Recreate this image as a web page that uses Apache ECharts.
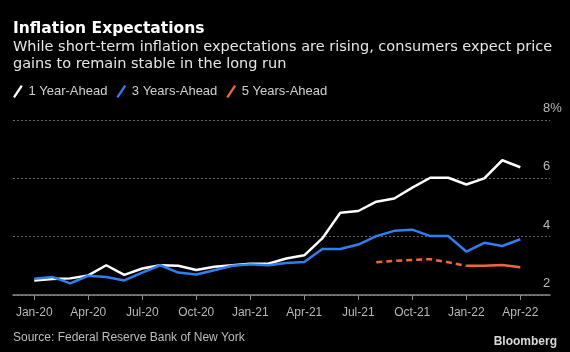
<!DOCTYPE html>
<html>
<head>
<meta charset="utf-8">
<script src="https://cdn.jsdelivr.net/npm/echarts@6/dist/echarts.min.js"></script>
<style>
  html, body { margin: 0; padding: 0; background: #000; }
  #chart { width: 570px; height: 352px; }
</style>
</head>
<body>
<div id="chart"></div>
<script>
// monthly, Jan-20 .. Apr-22 (index 0..27)
const months = ['Jan-20','Feb-20','Mar-20','Apr-20','May-20','Jun-20','Jul-20','Aug-20','Sep-20','Oct-20','Nov-20','Dec-20',
  'Jan-21','Feb-21','Mar-21','Apr-21','May-21','Jun-21','Jul-21','Aug-21','Sep-21','Oct-21','Nov-21','Dec-21',
  'Jan-22','Feb-22','Mar-22','Apr-22'];
const oneYear = [2.50, 2.55, 2.57, 2.67, 3.02, 2.69, 2.91, 3.02, 3.00, 2.86, 2.97, 3.02,
  3.07, 3.07, 3.25, 3.36, 3.94, 4.82, 4.88, 5.20, 5.31, 5.68, 6.02, 6.02, 5.79, 6.00, 6.62, 6.38];
const threeYear = [2.56, 2.62, 2.40, 2.66, 2.62, 2.50, 2.77, 3.02, 2.77, 2.70, 2.85, 3.00,
  3.05, 3.02, 3.10, 3.13, 3.58, 3.58, 3.73, 4.02, 4.20, 4.24, 4.02, 4.02, 3.49, 3.79, 3.68, 3.91];
// 5-year starts Aug-21; dashed until Jan-22, solid afterwards
const fiveYearStart = 19;
const fiveYear = [3.12, 3.17, 3.20, 3.23, 3.12, 3.00, 3.00, 3.03, 2.95];
const fiveYearSolidFrom = 24;
const tickIdx = [0, 3, 6, 9, 12, 15, 18, 21, 24, 27];

const font = 'Liberation Sans';
const wide = 'DejaVu Sans';
const chart = echarts.init(document.getElementById('chart'));

const pts = arr => arr.map((v, i) => [i, v]);
const fiveDashed = fiveYear.map((v, i) => [fiveYearStart + i, v]).filter(p => p[0] <= fiveYearSolidFrom);
const fiveSolid = fiveYear.map((v, i) => [fiveYearStart + i, v]).filter(p => p[0] >= fiveYearSolidFrom);

const slash = 'path://M0,12 L8,0 L10,1.3 L2,13.3 Z';

chart.setOption({
  backgroundColor: '#000',
  animation: false,
  title: [
    { text: 'Inflation Expectations', left: 13, top: 21, padding: 0,
      textStyle: { color: '#fff', fontFamily: wide, fontSize: 15.5, fontWeight: 'bold' } },
    { text: 'While short-term inflation expectations are rising, consumers expect price\ngains to remain stable in the long run',
      left: 13, top: 39, padding: 0,
      textStyle: { color: '#e6e6e6', fontFamily: wide, fontSize: 14.5, fontWeight: 'normal', lineHeight: 17 } },
    { text: 'Source: Federal Reserve Bank of New York', left: 13, top: 332, padding: 0,
      textStyle: { color: '#bdbdbd', fontFamily: font, fontSize: 12, fontWeight: 'normal' } },
    { text: 'Bloomberg', right: 13, top: 336, padding: 0,
      textStyle: { color: '#d8d8d8', fontFamily: font, fontSize: 12, fontWeight: 'bold' } }
  ],
  legend: {
    left: 13, top: 85, padding: 0,
    itemWidth: 11, itemHeight: 13, itemGap: 9,
    textStyle: { color: '#d0d0d0', fontFamily: font, fontSize: 13 },
    data: [
      { name: '1 Year-Ahead', icon: slash, itemStyle: { color: '#fff' } },
      { name: '3 Years-Ahead', icon: slash, itemStyle: { color: '#2f7ff0' } },
      { name: '5 Years-Ahead', icon: slash, itemStyle: { color: '#f0683a' } }
    ]
  },
  grid: { left: 13, right: 20, top: 120, bottom: 57 },
  xAxis: {
    type: 'value', min: -1.18, max: 28.65,
    axisLine: { lineStyle: { color: '#8a8a8a', width: 1.5 } },
    axisTick: { show: true, length: 5, lineStyle: { color: '#8a8a8a' }, customValues: tickIdx },
    axisLabel: { color: '#b8b8b8', fontFamily: font, fontSize: 12, margin: 12,
      customValues: tickIdx, formatter: v => months[Math.round(v)] },
    splitLine: { show: false }
  },
  yAxis: {
    type: 'value', position: 'right', min: 2, max: 8, interval: 2,
    axisLine: { show: false }, axisTick: { show: false },
    axisLabel: { color: '#b8b8b8', fontFamily: font, fontSize: 13, margin: -7,
      verticalAlign: 'bottom', padding: [0, 0, 5, 0],
      formatter: v => (v === 8 ? '8%' : String(v)) },
    splitLine: { lineStyle: { color: '#666', type: [2, 2], width: 1 } }
  },
  series: [
    { name: '1 Year-Ahead', type: 'line', data: pts(oneYear), showSymbol: false,
      lineStyle: { color: '#fff', width: 2.5 }, itemStyle: { color: '#fff' } },
    { name: '3 Years-Ahead', type: 'line', data: pts(threeYear), showSymbol: false,
      lineStyle: { color: '#2f7ff0', width: 2.5 }, itemStyle: { color: '#2f7ff0' } },
    { name: '5 Years-Ahead', type: 'line', data: fiveDashed, showSymbol: false,
      lineStyle: { color: '#f0683a', width: 2.5, type: [6, 4] }, itemStyle: { color: '#f0683a' } },
    { name: '5 Years-Ahead', type: 'line', data: fiveSolid, showSymbol: false,
      lineStyle: { color: '#f0683a', width: 2.5 }, itemStyle: { color: '#f0683a' } }
  ]
});
</script>
</body>
</html>
